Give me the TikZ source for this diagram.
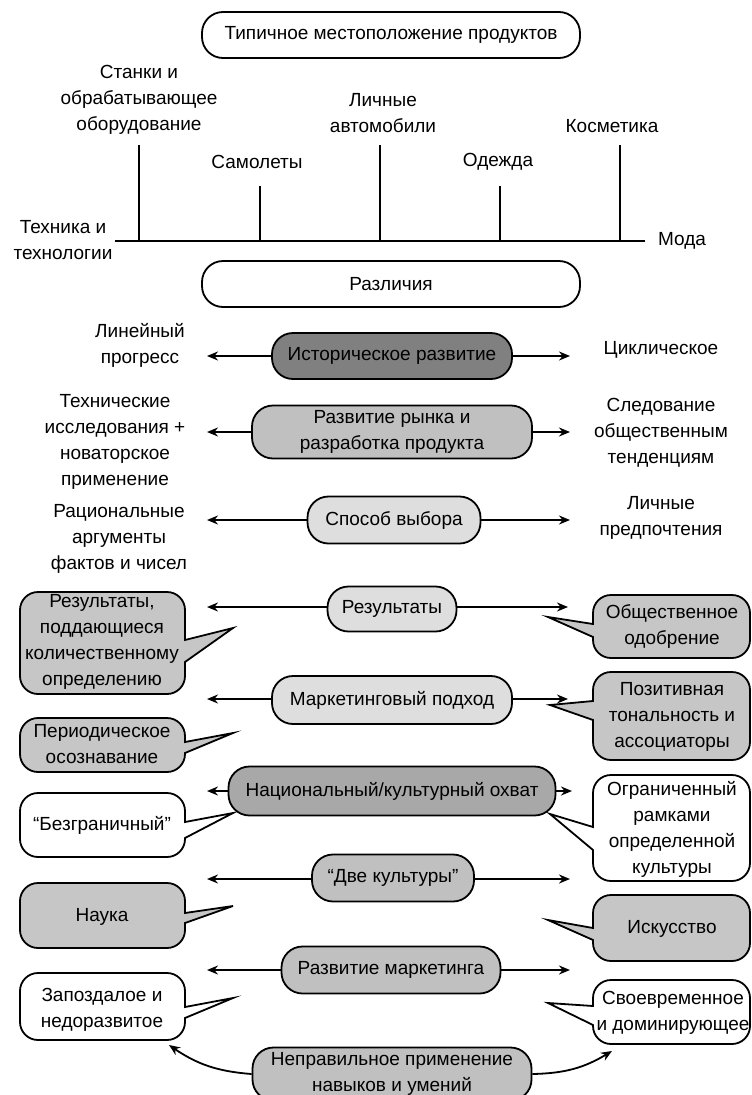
\documentclass[tikz,border=0pt]{standalone}
\usepackage{fontspec}
\setmainfont{Liberation Sans}
\usetikzlibrary{arrows.meta}
\definecolor{gdark}{HTML}{808080}
\definecolor{gmid}{HTML}{A8A8A8}
\definecolor{glight}{HTML}{C0C0C0}
\definecolor{gpale}{HTML}{DEDEDE}
\definecolor{gcall}{HTML}{C6C6C6}
\newcommand\calL[9]{%
 \draw[callout, fill=#1] (#2+18,#4) -- (#3-18,#4) arc[start angle=90,end angle=0,radius=18pt] -- (#3,#6) -- (#8,#9) -- (#3,#7) -- (#3,#5-18) arc[start angle=0,end angle=-90,radius=18pt] -- (#2+18,#5) arc[start angle=-90,end angle=-180,radius=18pt] -- (#2,#4+18) arc[start angle=180,end angle=90,radius=18pt] -- cycle;}
\newcommand\calR[9]{%
 \draw[callout, fill=#1] (#2+18,#4) -- (#3-18,#4) arc[start angle=90,end angle=0,radius=18pt] -- (#3,#5-18) arc[start angle=0,end angle=-90,radius=18pt] -- (#2+18,#5) arc[start angle=-90,end angle=-180,radius=18pt] -- (#2,#7) -- (#8,#9) -- (#2,#6) -- (#2,#4+18) arc[start angle=180,end angle=90,radius=18pt] -- cycle;}
\begin{document}
\begin{tikzpicture}[x=1pt,y=-1pt,
  every node/.style={font=\fontsize{19}{26}\selectfont},
  box/.style={draw, line width=1.8pt, rounded corners=21pt, inner sep=0pt, align=center},
  lbl/.style={align=center, inner sep=0pt},
  arr/.style={line width=1.8pt, -{Stealth[length=11pt,width=9pt]}},
  callout/.style={line width=1.8pt},
  tick/.style={line width=2pt}]
\useasboundingbox (0,0) rectangle (752,1095);

% top section
\node[box, minimum width=378, minimum height=46] (top) at (391,35) {Типичное местоположение продуктов};
\node[lbl] (p1) at (139,100) {Станки и\\обрабатывающее\\оборудование};
\node[lbl] (p2) at (257,162) {Самолеты};
\node[lbl] (p3) at (383,113) {Личные\\автомобили};
\node[lbl] (p4) at (498,162) {Одежда};
\node[lbl] (p5) at (612,126) {Косметика};
\node[lbl] (axl) at (63,240) {Техника и\\технологии};
\node[lbl] (axr) at (682,241) {Мода};
\coordinate (aL) at (115,241);
\coordinate (aR) at (645,241);
\draw[tick] (aL) -- (aR);
\foreach \x/\t in {139/145,260/186,380/145,500/186,620/145}{
  \draw[tick] (\x,241) -- (\x,\t);
}
\node[box, minimum width=378, minimum height=46] (diff) at (391,284) {Различия};

% rows with plain labels
\node[box, fill=gdark, minimum width=240, minimum height=46] (r1) at (392,356) {Историческое развитие};
\node[lbl] (l1) at (140,345) {Линейный\\прогресс};
\node[lbl] (q1) at (661,350) {Циклическое};
\coordinate (a1l) at (207,356); \coordinate (a1r) at (570,356);
\draw[arr] (r1.west) -- (a1l);
\draw[arr] (r1.east) -- (a1r);

\node[box, fill=glight, minimum width=280, minimum height=53] (r2) at (392,432) {Развитие рынка и\\разработка продукта};
\node[lbl] (l2) at (115,442) {Технические\\исследования +\\новаторское\\применение};
\node[lbl] (q2) at (661,433) {Следование\\общественным\\тенденциям};
\coordinate (a2l) at (207,432); \coordinate (a2r) at (570,432);
\draw[arr] (r2.west) -- (a2l);
\draw[arr] (r2.east) -- (a2r);

\node[box, fill=gpale, minimum width=173, minimum height=47] (r3) at (394,520) {Способ выбора};
\node[lbl] (l3) at (119,539) {Рациональные\\аргументы\\фактов и чисел};
\node[lbl] (q3) at (661,518) {Личные\\предпочтения};
\coordinate (a3l) at (207,520); \coordinate (a3r) at (570,520);
\draw[arr] (r3.west) -- (a3l);
\draw[arr] (r3.east) -- (a3r);

% callouts
\calL{gcall}{20}{185}{592}{694}{640}{662}{233}{628}
\calR{gcall}{593}{750}{595}{658}{624}{637}{548}{617}
\calL{gcall}{20}{185}{718}{772}{742}{753}{233}{733}
\calR{gcall}{593}{750}{672}{760}{701}{720}{550}{705}
\calL{white}{20}{185}{793}{857}{822}{838}{233}{813}
\calR{white}{593}{750}{775}{881}{827}{850}{550}{814}
\calL{gcall}{20}{185}{883}{948}{913}{923}{233}{906}
\calR{gcall}{593}{750}{895}{961}{928}{940}{548}{920}
\calL{white}{20}{185}{973}{1040}{1007}{1018}{233}{998}
\calR{white}{593}{750}{980}{1044}{1006}{1025}{548}{1003}

\node[lbl] (c1) at (102,642) {Результаты,\\поддающиеся\\количественному\\определению};
\node[lbl] (c2) at (672,626) {Общественное\\одобрение};
\node[lbl] (c3) at (102,744) {Периодическое\\осознавание};
\node[lbl] (c4) at (672,717) {Позитивная\\тональность и\\ассоциаторы};
\node[lbl] (c5) at (102,825) {“Безграничный”};
\node[lbl] (c6) at (672,829) {Ограниченный\\рамками\\определенной\\культуры};
\node[lbl] (c7) at (102,917) {Наука};
\node[lbl] (c8) at (672,929) {Искусство};
\node[lbl] (c9) at (102,1010) {Запоздалое и\\недоразвитое};
\node[lbl] (c10) at (673,1013) {Своевременное\\и доминирующее};

\node[box, fill=gpale, minimum width=129, minimum height=45] (r4) at (392,609) {Результаты};
\coordinate (a4l) at (207,607); \coordinate (a4r) at (568,607);
\draw[arr] (r4.west|-a4l) -- (a4l);
\draw[arr] (r4.east|-a4r) -- (a4r);

\node[box, fill=gpale, minimum width=240, minimum height=48] (r5) at (392,700) {Маркетинговый подход};
\coordinate (a5l) at (207,699); \coordinate (a5r) at (568,699);
\draw[arr] (r5.west|-a5l) -- (a5l);
\draw[arr] (r5.east|-a5r) -- (a5r);

\node[box, fill=gmid, minimum width=327, minimum height=49] (r6) at (392,791) {Национальный/культурный охват};
\coordinate (a6l) at (207,791); \coordinate (a6r) at (572,791);
\draw[arr] (r6.west) -- (a6l);
\draw[arr] (r6.east) -- (a6r);

\node[box, fill=glight, minimum width=162, minimum height=47] (r7) at (393,878) {“Две культуры”};
\coordinate (a7l) at (207,879); \coordinate (a7r) at (570,879);
\draw[arr] (r7.west|-a7l) -- (a7l);
\draw[arr] (r7.east|-a7r) -- (a7r);

\node[box, fill=glight, minimum width=219, minimum height=47] (r8) at (391,970) {Развитие маркетинга};
\coordinate (a8l) at (207,970); \coordinate (a8r) at (570,970);
\draw[arr] (r8.west) -- (a8l);
\draw[arr] (r8.east) -- (a8r);

\node[box, fill=glight, minimum width=279, minimum height=53] (r9) at (392,1074) {Неправильное применение\\навыков и умений};
\coordinate (a9l) at (169,1045); \coordinate (a9r) at (612,1051);
\draw[arr] (r9.west) to[bend left=15] (a9l);
\draw[arr] (r9.east) to[bend right=15] (a9r);
\end{tikzpicture}
\end{document}
